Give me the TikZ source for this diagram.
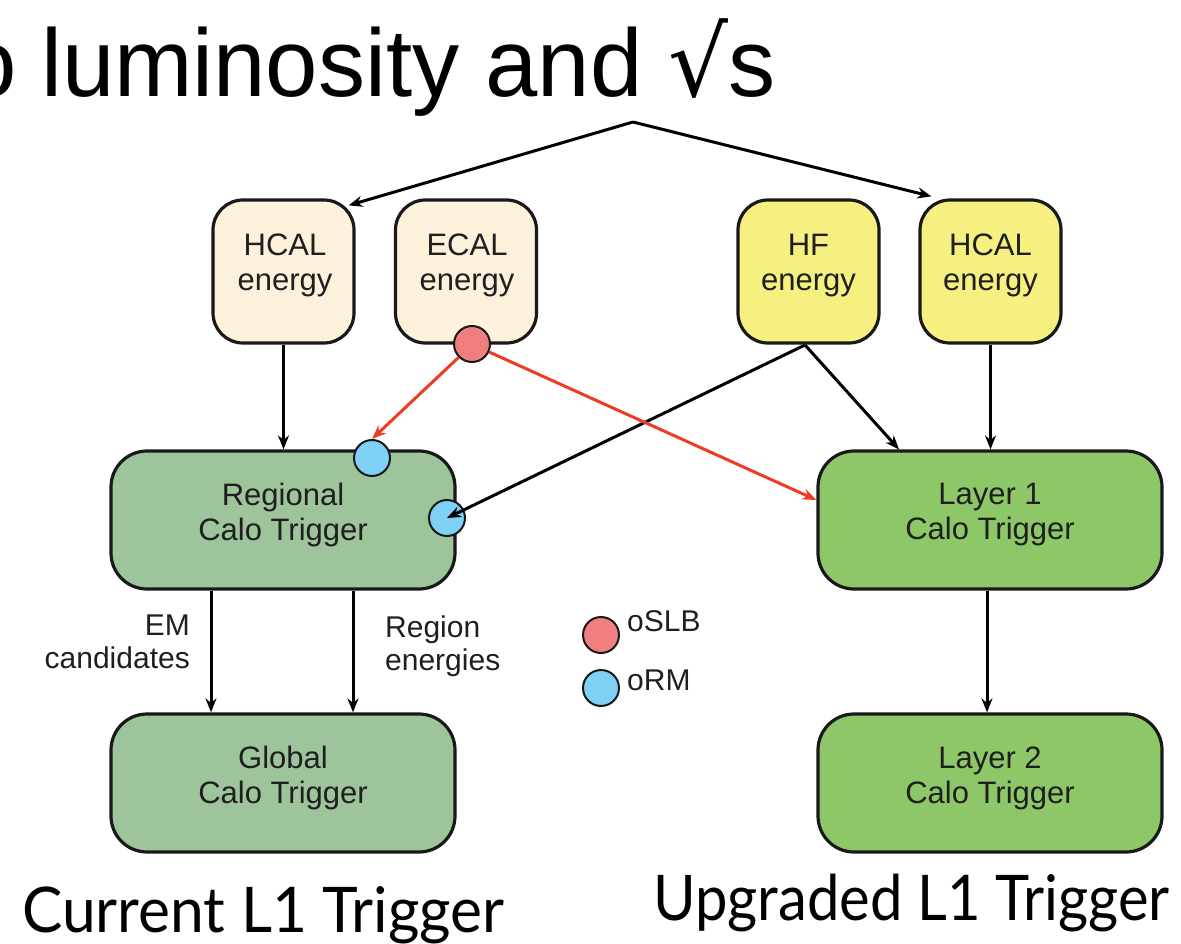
\documentclass[tikz,border=0pt]{standalone}
\usepackage{fontspec}
\setmainfont{Liberation Sans}
\newfontfamily\titlefont[FakeStretch=0.98]{Liberation Sans}
\newfontfamily\symfont[FakeStretch=0.98]{DejaVu Sans}
\newfontfamily\capfontA[FakeStretch=0.96]{Lato}
\newfontfamily\capfontB[FakeStretch=0.92]{Lato}
\usetikzlibrary{arrows.meta,calc}
\definecolor{beige}{HTML}{FDF1DC}
\definecolor{yell}{HTML}{F5F080}
\definecolor{sage}{HTML}{9DC49B}
\definecolor{grn}{HTML}{8DC768}
\definecolor{redc}{HTML}{F07F7F}
\definecolor{bluec}{HTML}{7ED0F5}
\definecolor{redarr}{HTML}{EE3B24}
\tikzset{
  ebox/.style={draw=black!90, line width=3.2pt, rounded corners=30pt, minimum width=141pt, minimum height=143pt, inner sep=0pt},
  bigbox/.style={draw=black!90, line width=3.2pt, rounded corners=36pt, minimum width=344pt, minimum height=138pt, inner sep=0pt},
  btext/.style={font=\fontsize{31}{35}\selectfont, align=center, inner sep=0pt, text=black!88},
  ltext/.style={font=\fontsize{30}{33}\selectfont, inner sep=0pt, text=black!88},
  dot/.style={circle, draw=black!90, line width=2pt, minimum size=36pt, inner sep=0pt},
  arr/.style={line width=3pt, -{Stealth[length=14pt,width=11pt]}},
  rarr/.style={arr, draw=redarr},
  capA/.style={font=\capfontA\fontsize{63}{70}\selectfont, inner sep=0pt},
  capB/.style={font=\capfontB\fontsize{63}{70}\selectfont, inner sep=0pt}
}
\begin{document}
\begin{tikzpicture}[x=1pt,y=-1pt]
\useasboundingbox (0,0) rectangle (1181,944);
\clip (0,0) rectangle (1181,944);

% title
\node[anchor=base east, inner sep=0pt, font=\titlefont\fontsize{96}{100}\selectfont] (title) at (776,97) {o\kern-2pt{} luminosity and {\symfont √}s};
\coordinate (apex) at (633,122);

% energy boxes
\node[ebox, fill=beige] (hcalL) at (283.5,271.5) {};
\node[ebox, fill=beige] (ecal) at (466,271.5) {};
\node[ebox, fill=yell] (hf) at (808.5,271.5) {};
\node[ebox, fill=yell] (hcalR) at (990.5,271.5) {};
\node[btext] (hcalLt) at (285,265.5) {HCAL\\energy};
\node[btext] (ecalt) at (467,265.5) {ECAL\\energy};
\node[btext] (hft) at (808.5,265.5) {HF\\energy};
\node[btext] (hcalRt) at (990.5,265.5) {HCAL\\energy};

% trigger boxes
\node[bigbox, fill=sage] (rct) at (283,520) {};
\node[bigbox, fill=grn] (l1) at (990,520) {};
\node[bigbox, fill=sage] (gct) at (283,783) {};
\node[bigbox, fill=grn] (l2) at (990,783) {};
\node[btext] (rctt) at (283,514.5) {Regional\\Calo Trigger};
\node[btext] (l1t) at (990,514.5) {Layer 1\\Calo Trigger};
\node[btext] (gctt) at (283,778) {Global\\Calo Trigger};
\node[btext] (l2t) at (990,778) {Layer 2\\Calo Trigger};

% top arrows
\draw[arr] (apex) -- ($(hcalL.north east)+(-7,7)$);
\draw[arr] (apex) -- ($(hcalR.north west)+(13,-2)$);

% vertical arrows
\draw[arr] (hcalL.south) -- (hcalL.south |- rct.north);
\draw[arr] (hcalR.south) -- (hcalR.south |- l1.north);
\draw[arr] (l1.south -| 987,0) -- (l2.north -| 987,0);
\draw[arr] (rct.south -| 211,0) -- (gct.north -| 211,0);
\draw[arr] (rct.south -| 353,0) -- (gct.north -| 353,0);

% oSLB / oRM dots on boxes
\node[dot, fill=bluec] (ormTop) at (372,458) {};
\node[dot, fill=bluec] (ormSide) at (447,518) {};

% HF arrows
\coordinate (hfout) at (805,345);
\draw[arr] (hfout) -- (ormSide.center);
\draw[arr] (hfout) -- (l1.north -| 899,0);

\node[dot, fill=redc] (oslb) at (472,344) {};
\draw[rarr] (oslb.225) -- (ormTop.north);
\draw[rarr] (oslb.-25) -- (l1.west |- 0,500);

% labels
\node[ltext, align=right, anchor=east] (emlab) at (190,642) {EM\\candidates};
\node[ltext, align=left, anchor=west] (reglab) at (385,646) {Region\\energies};

% legend
\node[dot, fill=redc] (legR) at (601,635) {};
\node[dot, fill=bluec] (legB) at (601,688) {};
\node[ltext, anchor=base west] (legRt) at (627,631) {oSLB};
\node[ltext, anchor=base west] (legBt) at (627,690) {oRM};

% captions
\node[capA, anchor=base west] (capL) at (22,932) {Current L1 Trigger};
\node[capB, anchor=base west] (capR) at (653,920) {Upgraded L1 Trigger};
\end{tikzpicture}
\end{document}
